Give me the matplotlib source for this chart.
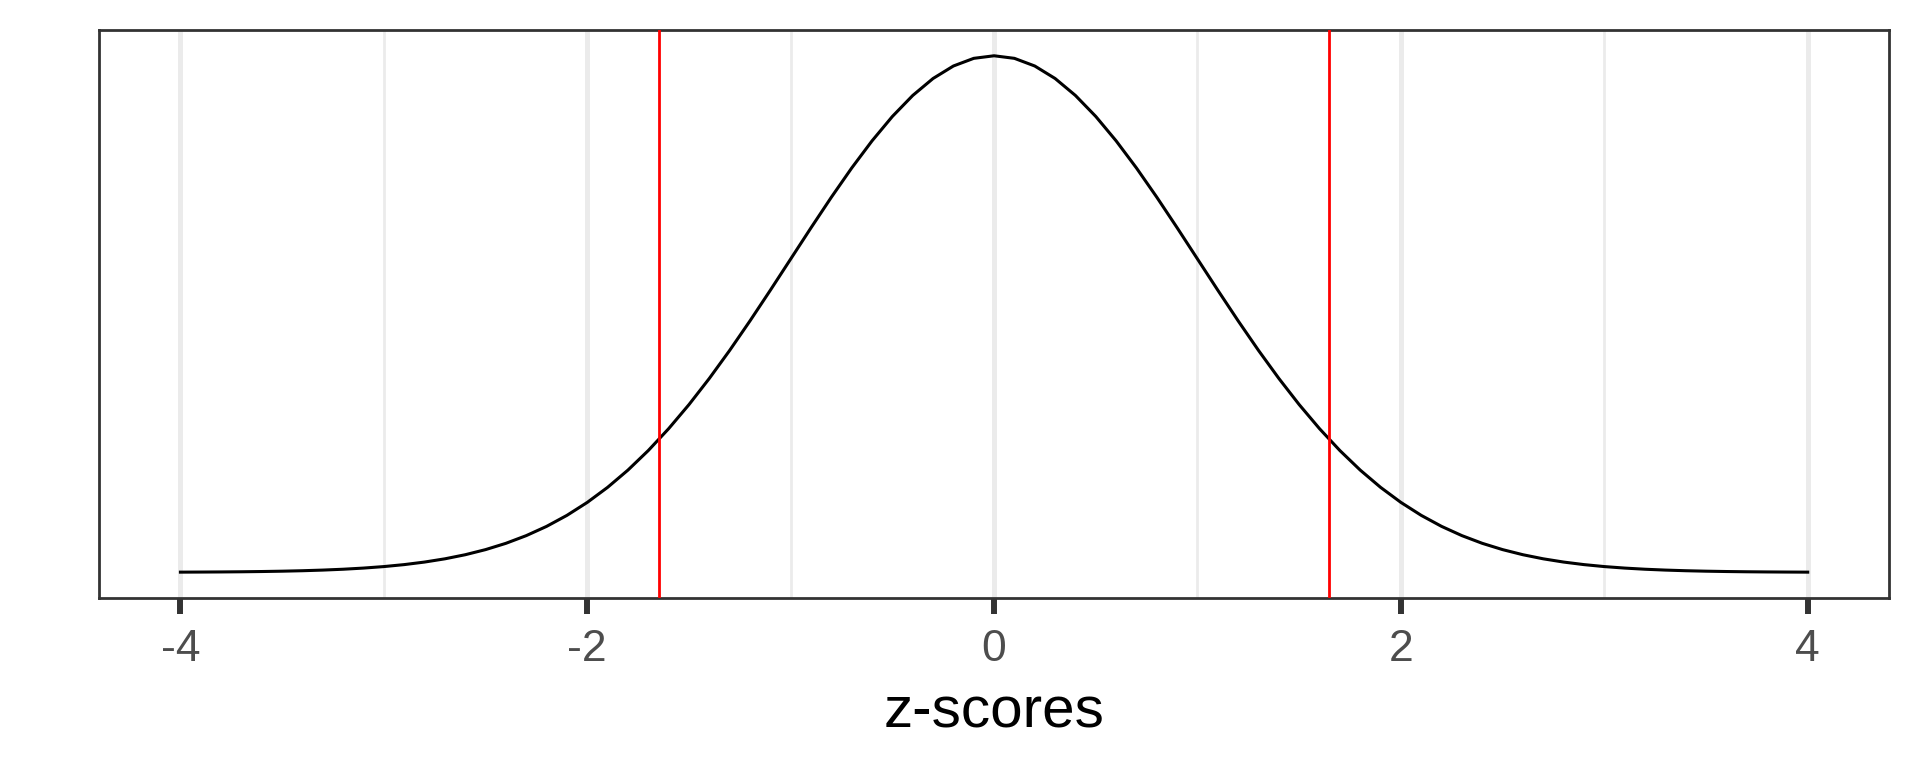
import numpy as np
import matplotlib
matplotlib.use("Agg")
import matplotlib.pyplot as plt

plt.rcParams['font.family'] = ['Liberation Sans', 'DejaVu Sans']

# standard normal density, read at steps of 0.1 from -4 to 4
z = np.linspace(-4, 4, 81)
density = [
    0.00013, 0.00020, 0.00029, 0.00042, 0.00061, 0.00087, 0.00123, 0.00172, 0.00238, 0.00327,
    0.00443, 0.00595, 0.00792, 0.01042, 0.01358, 0.01753, 0.02239, 0.02833, 0.03547, 0.04398,
    0.05399, 0.06562, 0.07895, 0.09405, 0.11092, 0.12952, 0.14973, 0.17137, 0.19419, 0.21785,
    0.24197, 0.26609, 0.28969, 0.31225, 0.33322, 0.35207, 0.36827, 0.38139, 0.39104, 0.39695,
    0.39894,
    0.39695, 0.39104, 0.38139, 0.36827, 0.35207, 0.33322, 0.31225, 0.28969, 0.26609, 0.24197,
    0.21785, 0.19419, 0.17137, 0.14973, 0.12952, 0.11092, 0.09405, 0.07895, 0.06562, 0.05399,
    0.04398, 0.03547, 0.02833, 0.02239, 0.01753, 0.01358, 0.01042, 0.00792, 0.00595, 0.00443,
    0.00327, 0.00238, 0.00172, 0.00123, 0.00087, 0.00061, 0.00042, 0.00029, 0.00020, 0.00013,
]
critical = [-1.645, 1.645]
major_ticks = [-4, -2, 0, 2, 4]
minor_ticks = [-3, -1, 1, 3]

fig = plt.figure(figsize=(19.2, 7.68), dpi=100)
ax = fig.add_axes([0.0516, 0.2214, 0.9323, 0.7396])

# grid (vertical only)
for t in major_ticks:
    ax.axvline(t, color='#EBEBEB', lw=3.6, zorder=0)
for t in minor_ticks:
    ax.axvline(t, color='#EBEBEB', lw=2.0, zorder=0)

ax.plot(z, density, color='black', lw=2.2, zorder=2)
for c in critical:
    ax.axvline(c, color='#FF0000', lw=2.0, zorder=3)

ymin, ymax = min(density), max(density)
pad = 0.05 * (ymax - ymin)
ax.set_ylim(ymin - pad, ymax + pad)
ax.set_xlim(-4.4, 4.4)

ax.set_xticks(major_ticks)
ax.set_xticklabels([str(t) for t in major_ticks])
ax.set_yticks([])
ax.tick_params(axis='x', length=11.5, width=4.3, color='#333333',
               labelsize=32, labelcolor='#4D4D4D', pad=11)

for s in ax.spines.values():
    s.set_color('#333333')
    s.set_linewidth(2.0)

ax.set_xlabel('z-scores', fontsize=42, color='black', labelpad=11)

fig.savefig('out.png', dpi=100, facecolor='white')
